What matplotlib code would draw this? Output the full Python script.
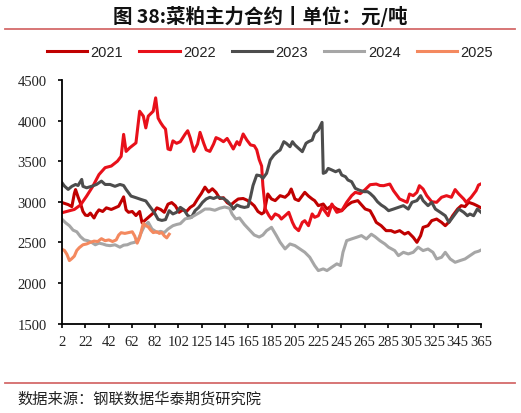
import matplotlib
matplotlib.use("Agg")
import matplotlib.pyplot as plt
from matplotlib.lines import Line2D

# ---------------- data ----------------
# category axis: 361 trading-day slots, a label every 20 slots
tick_labels = ['2', '22', '42', '62', '82', '102', '125', '145', '165', '185',
               '205', '225', '245', '265', '285', '305', '325', '345', '365']
n_slots = 360

series_names = ['2021', '2022', '2023', '2024', '2025']

# positions below were read on a 0..340 reading grid spanning the full axis
grid_span = 340

d2021 = [0, 3, 5, 8, 10, 11, 13, 15, 17, 19, 21, 23, 26, 28, 30, 33, 36, 40, 43, 46,
         49, 50, 52, 54, 57, 60, 63, 65, 68, 71, 74, 77, 80, 83, 86, 89, 92, 95, 98, 101,
         104, 107, 110, 113, 116, 119, 122, 125, 128, 131, 134, 137, 140, 143, 147, 150,
         153, 156, 159, 162, 164, 167, 170, 173, 177, 181, 184, 186, 189, 192, 195, 197,
         200, 203, 205, 208, 212, 215, 219, 223, 227, 231, 235, 240, 246, 250, 253, 255,
         259, 263, 267, 270, 274, 278, 281, 285, 288, 291, 293, 297, 300, 304, 308, 311,
         314, 317, 321, 324, 327, 330, 334, 337, 340]
v2021 = [2990, 2975, 2965, 2940, 3100, 3150, 3060, 2980, 2880, 2835, 2830, 2860, 2800, 2860,
         2900, 2880, 2925, 2905, 2925, 2945, 3030, 3060, 2900, 2870, 2880, 2830, 2880, 2740,
         2780, 2820, 2860, 2925, 2905, 2870, 2970, 2990, 2950, 2870, 2900, 2880, 2930, 2960,
         3034, 3100, 3180, 3120, 3160, 3115, 3040, 3050, 2990, 2960, 3000, 3034, 3040, 3020,
         2990, 2950, 2880, 2850, 2870, 3096, 3034, 3014, 3075, 3055, 3096, 3157, 3034, 3014,
         3075, 3116, 3070, 3034, 3014, 2952, 2972, 2911, 2952, 2911, 2890, 2952, 2993, 3014,
         2911, 2890, 2808, 2746, 2705, 2644, 2644, 2623, 2644, 2602, 2623, 2562, 2500, 2582,
         2685, 2705, 2767, 2787, 2746, 2705, 2750, 2828, 2910, 2952, 2940, 2993, 2972, 2950,
         2925]

d2022 = [0, 5, 10, 15, 20, 25, 30, 35, 40, 45, 48, 50, 52, 55, 60, 63, 66, 68, 70, 74,
         76, 78, 80, 82, 84, 86, 88, 90, 93, 96, 100, 102, 104, 107, 110, 112, 115, 117,
         120, 123, 125, 128, 131, 134, 136, 139, 142, 144, 147, 150, 153, 156, 158, 160,
         162, 163, 165, 168, 170, 173, 176, 178, 181, 184, 187, 189, 192, 195, 197, 200,
         203, 205, 208, 211, 214, 216, 219, 223, 227, 231, 235, 238, 242, 246, 250, 255,
         258, 261, 264, 266, 269, 272, 274, 277, 280, 282, 285, 288, 290, 293, 296, 300,
         304, 308, 312, 316, 319, 322, 326, 328, 332, 336, 338, 340]
v2022 = [2865, 2885, 2905, 2960, 3070, 3190, 3335, 3420, 3440, 3500, 3560, 3830, 3620, 3665,
         3725, 4115, 4055, 3910, 4055, 4115, 4280, 4030, 3975, 3930, 3895, 3650, 3640, 3750,
         3720, 3740, 3835, 3875, 3790, 3620, 3711, 3855, 3720, 3640, 3620, 3711, 3790, 3770,
         3740, 3780, 3730, 3650, 3740, 3700, 3835, 3760, 3700, 3690, 3640, 3520, 3440, 3200,
         2911, 2828, 2787, 2850, 2828, 2787, 2828, 2870, 2746, 2685, 2644, 2746, 2767, 2705,
         2850, 2808, 2828, 2931, 2870, 2828, 2972, 2870, 2890, 2993, 3075, 3116, 3100, 3150,
         3210, 3218, 3200, 3198, 3210, 3218, 3136, 3075, 3034, 3014, 2993, 3095, 3075, 3116,
         3198, 3157, 3075, 3000, 2993, 3055, 3075, 3055, 3150, 3095, 3034, 2993, 3055, 3136,
         3206, 3220]

d2023 = [0, 2, 5, 8, 11, 13, 16, 17, 20, 24, 28, 32, 35, 39, 43, 47, 50, 52, 56, 60,
         64, 68, 71, 75, 78, 81, 84, 87, 90, 93, 96, 99, 102, 105, 108, 111, 114, 117, 120,
         123, 126, 128, 131, 134, 137, 139, 142, 145, 148, 151, 153, 155, 158, 161, 163,
         166, 169, 172, 175, 177, 180, 182, 185, 187, 189, 192, 195, 198, 200, 203, 205,
         208, 211, 212, 214, 216, 219, 222, 225, 227, 230, 232, 235, 238, 241, 245, 248,
         250, 253, 256, 259, 262, 265, 269, 273, 277, 281, 284, 288, 291, 293, 297, 300,
         303, 307, 311, 314, 316, 319, 322, 326, 329, 331, 334, 337, 340]
v2023 = [3234, 3193, 3152, 3190, 3213, 3200, 3275, 3190, 3172, 3190, 3213, 3254, 3213, 3213,
         3190, 3213, 3200, 3152, 3070, 3050, 3029, 3010, 2947, 2865, 2783, 2770, 2780, 2890,
         2850, 2870, 2931, 2900, 2830, 2807, 2890, 2931, 2992, 3034, 3055, 3040, 3060, 3050,
         3040, 3010, 2960, 2910, 2960, 2940, 2930, 2940, 3062, 3200, 3329, 3320, 3288, 3350,
         3514, 3576, 3617, 3637, 3740, 3720, 3678, 3740, 3700, 3658, 3617, 3720, 3740, 3760,
         3843, 3884, 3978, 3350, 3363, 3411, 3391, 3370, 3391, 3329, 3309, 3268, 3247, 3165,
         3144, 3124, 3124, 3103, 3060, 3000, 2960, 2931, 2890, 2910, 2931, 2952, 2910, 2993,
         3014, 3075, 3014, 2952, 2993, 2910, 2870, 2828, 2746, 2787, 2849, 2910, 2870, 2828,
         2849, 2828, 2910, 2870]

d2024 = [0, 3, 6, 9, 12, 15, 18, 21, 24, 27, 30, 33, 36, 39, 43, 47, 50, 53, 56, 59,
         62, 65, 67, 70, 73, 77, 80, 83, 86, 90, 93, 96, 100, 104, 108, 112, 116, 120, 124,
         128, 132, 136, 138, 141, 144, 148, 152, 156, 160, 163, 166, 170, 174, 177, 181,
         185, 189, 193, 197, 201, 205, 208, 212, 215, 219, 223, 226, 228, 231, 235, 239,
         243, 247, 251, 254, 258, 262, 265, 270, 273, 277, 281, 285, 289, 293, 297, 301,
         304, 308, 311, 315, 319, 323, 327, 331, 335, 338, 340]
v2024 = [2785, 2740, 2705, 2650, 2630, 2570, 2530, 2520, 2500, 2470, 2490, 2480, 2465, 2459,
         2470, 2440, 2465, 2470, 2490, 2500, 2541, 2643, 2705, 2746, 2664, 2623, 2635, 2620,
         2664, 2705, 2720, 2730, 2790, 2800, 2835, 2870, 2910, 2910, 2895, 2920, 2935, 2920,
         2849, 2788, 2800, 2720, 2655, 2590, 2565, 2590, 2644, 2685, 2583, 2501, 2419, 2480,
         2460, 2419, 2378, 2317, 2214, 2152, 2173, 2152, 2194, 2235, 2214, 2378, 2521, 2542,
         2562, 2583, 2542, 2600, 2570, 2520, 2480, 2440, 2398, 2336, 2377, 2357, 2377, 2440,
         2398, 2418, 2377, 2295, 2316, 2377, 2295, 2254, 2275, 2295, 2336, 2377, 2390, 2405]

d2025 = [0, 2, 4, 6, 8, 10, 12, 14, 17, 20, 23, 26, 29, 32, 35, 38, 41, 44, 46, 48,
         51, 54, 57, 59, 61, 63, 66, 68, 70, 72, 74, 77, 79, 81, 83, 85, 87]
v2025 = [2414, 2400, 2352, 2275, 2300, 2330, 2400, 2434, 2470, 2480, 2500, 2515, 2510, 2545,
         2520, 2530, 2510, 2530, 2590, 2619, 2610, 2620, 2630, 2578, 2490, 2560, 2735, 2705,
         2690, 2650, 2620, 2630, 2610, 2620, 2580, 2555, 2600]

colors = ['#C00000', '#E8101A', '#4D4D4D', '#A6A6A6', '#F4895F']


def to_slot(days):
    return [d * n_slots / grid_span for d in days]


# ---------------- figure ----------------
W, H = 521, 414
fig = plt.figure(figsize=(W / 100, H / 100), dpi=100)
ax = fig.add_axes([62 / W, 1 - 324.5 / H, 419 / W, 243.5 / H])

days = [d2021, d2022, d2023, d2024, d2025]
vals = [v2021, v2022, v2023, v2024, v2025]
handles = []
for name, d, v, c in zip(series_names, days, vals, colors):
    ln, = ax.plot(to_slot(d), v, color=c, lw=2.2, solid_joinstyle='round', label=name)
    handles.append(ln)

ax.set_xlim(0, n_slots)
ax.set_ylim(1500, 4500)
ax.set_xticks(range(0, n_slots + 1, 20))
ax.set_xticklabels(tick_labels)
ax.set_yticks(range(1500, 4501, 500))

for s in ['top', 'right']:
    ax.spines[s].set_visible(False)
for s in ['left', 'bottom']:
    ax.spines[s].set_color('black')
    ax.spines[s].set_linewidth(1.3)

ax.tick_params(axis='both', direction='out', length=3, width=1.2, color='black')
ax.tick_params(axis='y', pad=8)
ax.tick_params(axis='x', pad=5)
for lab in ax.get_xticklabels() + ax.get_yticklabels():
    lab.set_fontfamily('Liberation Serif')
    lab.set_fontsize(10.5)
    lab.set_color('#222222')

leg = fig.legend(handles=handles, labels=series_names, loc='center',
                 bbox_to_anchor=(270 / W, 1 - 53 / H), ncol=5, frameon=False,
                 handlelength=2.75, handletextpad=0.25, columnspacing=1.1,
                 prop={'family': 'Liberation Sans', 'size': 10.5})
for t in leg.get_texts():
    t.set_color('#222222')

# title
fig.text(0.5, 1 - 16 / H, '图 38:菜粕主力合约丨单位：元/吨', ha='center', va='center',
         fontsize=14, fontweight='bold', family=['Noto Sans CJK SC', 'DejaVu Sans'],
         color='#111111')

# decorative rules
fig.add_artist(Line2D([5 / W, 515 / W], [1 - 29.5 / H, 1 - 29.5 / H],
                      color='#D46A6A', lw=1.3, transform=fig.transFigure))
fig.add_artist(Line2D([5 / W, 515 / W], [1 - 384 / H, 1 - 384 / H],
                      color='#D46A6A', lw=1.3, transform=fig.transFigure))

fig.text(17 / W, 1 - 399 / H, '数据来源：钢联数据华泰期货研究院', ha='left', va='center',
         fontsize=11, family=['Noto Sans CJK SC', 'DejaVu Sans'], color='#222222')

fig.savefig('out.png', dpi=100)
